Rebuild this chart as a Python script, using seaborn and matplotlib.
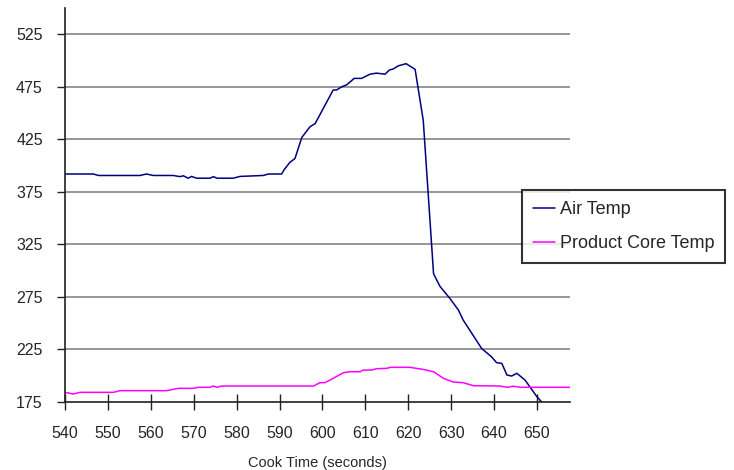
import pandas as pd
import matplotlib
matplotlib.use("Agg")
import matplotlib.pyplot as plt
import seaborn as sns

# Air Temp readings (time in seconds, temperature)
air_time = [540, 546.6, 547.8, 557.5, 559, 560.6, 565.2, 566.8, 567.6, 568.7, 569.5, 570.7,
            573.8, 574.6, 575.4, 579.2, 580.8, 586.2, 587.4, 590.5, 591, 592.4, 593.6, 595.2,
            597.1, 598.3, 602.5, 603.3, 604.5, 605.7, 607.4, 609.1, 611.1, 612.6, 614.6, 615.6,
            616.5, 617.7, 619.5, 621.6, 623.5, 625.9, 627.4, 629.7, 631.7, 632.8, 637.1, 639.4,
            640.6, 641.8, 643, 644.1, 645.3, 647.2, 650, 651.1]
air_temp = [392, 392, 390.6, 390.6, 392, 390.6, 390.6, 389.5, 390.3, 388, 389.7, 388,
            388, 389.5, 388, 388, 389.7, 390.6, 392, 392, 395.7, 403, 406.8, 426.8,
            437, 440, 471.9, 472, 475, 477, 483, 483, 487, 488, 487, 491,
            492, 495, 497, 491.6, 443, 297, 285, 273.6, 262.5, 253, 226, 218,
            212.4, 211.8, 200.7, 199.7, 202.3, 196, 180, 175]

# Product Core Temp readings
core_time = [540, 541.9, 543.5, 551.3, 552.8, 563.7, 566.4, 569.9, 571.1, 573.8, 574.6, 575.4,
             576.5, 597.9, 599.4, 600.6, 602.5, 604.9, 606.4, 608.8, 609.5, 611.5, 612.6, 615,
             615.8, 620.4, 623.5, 625.9, 628.2, 630.5, 632.8, 635.2, 641.4, 643, 644.5, 646.1,
             657.7]
core_temp = [184.2, 182.6, 184.2, 184.2, 185.8, 185.8, 188, 188, 189, 189, 190.2, 189,
             190.2, 190.2, 193.4, 193.4, 197.5, 202.9, 203.8, 203.8, 205.4, 205.4, 206.7, 207,
             208, 208, 206, 203.8, 197.5, 194, 193.4, 190.5, 190.2, 189, 190, 189,
             189]

x_ticks = list(range(540, 651, 10))
y_ticks = list(range(175, 526, 50))

df = pd.concat([
    pd.DataFrame({"time": air_time, "temp": air_temp, "series": "Air Temp"}),
    pd.DataFrame({"time": core_time, "temp": core_temp, "series": "Product Core Temp"}),
], ignore_index=True)

sns.set_theme(style="white")
plt.rcParams['font.family'] = ['Liberation Sans', 'DejaVu Sans']

fig = plt.figure(figsize=(7.34, 4.70), dpi=100)
ax = fig.add_axes([65 / 734, 1 - 402 / 470, (570 - 65) / 734, (402 - 8) / 470])

sns.lineplot(data=df, x="time", y="temp", hue="series", estimator=None, sort=False,
             palette={"Air Temp": "#000080", "Product Core Temp": "#FF00FF"},
             linewidth=1.1, ax=ax)

ax.set_xlim(540, 657.7)
ax.set_ylim(175, 550)
ax.set_xticks(x_ticks)
ax.set_yticks(y_ticks)
for y in y_ticks[1:]:
    ax.axhline(y, color="#858585", linewidth=1.2, zorder=0)

for s in ["top", "right"]:
    ax.spines[s].set_visible(False)
for s in ["left", "bottom"]:
    ax.spines[s].set_color("#202020")
    ax.spines[s].set_linewidth(1.2)

ax.tick_params(axis="y", direction="out", length=6, width=1, color="#202020",
               labelsize=11.5, pad=10, left=True)
ax.tick_params(axis="x", direction="inout", length=12, width=1, color="#202020",
               labelsize=11.5, pad=11, bottom=True)
ax.set_xlabel("Cook Time (seconds)", fontsize=10.5, labelpad=11)
ax.set_ylabel("")

leg = ax.legend(loc="upper left", bbox_to_anchor=(522 / 734, 1 - 190 / 470),
                bbox_transform=fig.transFigure, borderaxespad=0, fontsize=13,
                frameon=True, fancybox=False, edgecolor="black", handlelength=1.2,
                handletextpad=0.3, borderpad=0.6, labelspacing=0.95)
leg.get_frame().set_linewidth(1.5)
leg.set_title(None)

fig.savefig("out.png", dpi=100)
